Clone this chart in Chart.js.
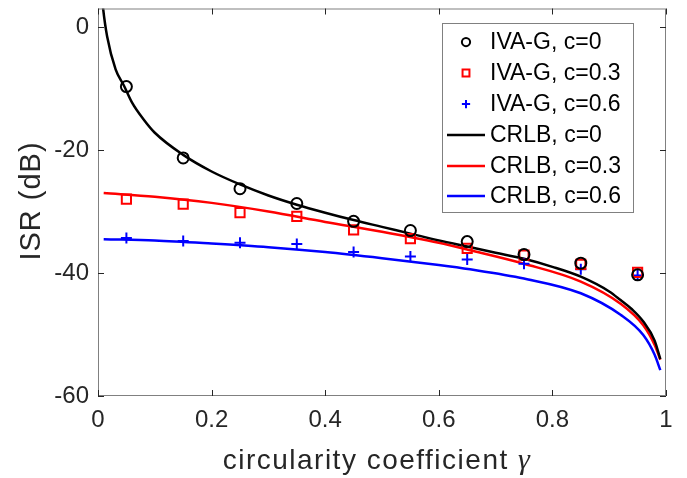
<!DOCTYPE html>
<html>
<head>
<meta charset="utf-8">
<script src="https://cdn.jsdelivr.net/npm/chart.js@4.4.1/dist/chart.umd.min.js"></script>
<style>
  body { margin: 0; background: #fff; }
  canvas { display: block; }
</style>
</head>
<body>
<canvas id="isrChart" width="687" height="478"></canvas>
<script>
// ISR vs circularity coefficient: IVA-G markers and CRLB curves

// marker positions (gamma) and IVA-G values
const gammaPts = [0.05, 0.15, 0.25, 0.35, 0.45, 0.55, 0.65, 0.75, 0.85, 0.95];
const ivaC0 = [-9.7, -21.3, -26.3, -28.7, -31.6, -33.1, -34.9, -37.0, -38.4, -40.3];
const ivaC3 = [-28.0, -28.8, -30.2, -30.8, -33.0, -34.4, -36.0, -37.1, -38.6, -39.9];
const ivaC6 = [-34.3, -34.8, -35.1, -35.3, -36.6, -37.3, -37.8, -38.5, -39.4, -40.4];

// CRLB curves
const crlbX0 = [0.007, 0.009, 0.016, 0.031, 0.046, 0.06, 0.08, 0.1, 0.15, 0.2, 0.25, 0.3, 0.35, 0.4, 0.45, 0.5, 0.55, 0.6, 0.65, 0.7, 0.75, 0.8, 0.85, 0.9, 0.92, 0.94, 0.96, 0.98, 0.99];
const crlbC0 = [5, 3, -1.5, -6.9, -9.6, -12.3, -15.0, -17.2, -20.8, -23.5, -25.6, -27.4, -28.9, -30.2, -31.4, -32.5, -33.6, -34.7, -35.7, -36.7, -37.7, -39.0, -40.6, -43.0, -44.4, -45.9, -47.9, -51.0, -54.0];
const crlbX = [0.01, 0.1, 0.2, 0.3, 0.4, 0.5, 0.6, 0.655, 0.75, 0.85, 0.92, 0.96, 0.98, 0.99];
const crlbC3 = [-27.0, -27.6, -28.6, -30.0, -31.7, -33.3, -35.1, -36.3, -38.5, -41.4, -45.0, -48.5, -51.7, -54.1];
const crlbC6 = [-34.5, -34.7, -35.2, -35.8, -36.6, -37.6, -38.7, -39.4, -40.9, -43.3, -46.8, -50.1, -53.3, -55.8];

// axis ticks
const xTicks = [0, 0.2, 0.4, 0.6, 0.8, 1];
const yTicks = [-60, -40, -20, 0];

const legendLabels = ['IVA-G, c=0', 'IVA-G, c=0.3', 'IVA-G, c=0.6', 'CRLB, c=0', 'CRLB, c=0.3', 'CRLB, c=0.6'];

const axisGray = '#262626';
const boxGray = '#808080';
const fontFam = '"Liberation Sans", Arial, Helvetica, sans-serif';

function pairs(xs, ys) {
    return xs.map((x, i) => ({ x: x, y: ys[i] }));
}

function markerSet(label, ys, color, style, radius) {
    return {
        label: label,
        data: pairs(gammaPts, ys),
        showLine: false,
        borderColor: color,
        backgroundColor: 'rgba(0,0,0,0)',
        pointStyle: style,
        pointRadius: radius,
        pointBorderWidth: 2,
        order: 1
    };
}

function curveSet(label, xs, ys, color) {
    return {
        label: label,
        data: pairs(xs, ys),
        showLine: true,
        borderColor: color,
        borderWidth: 2.5,
        pointRadius: 0,
        cubicInterpolationMode: 'monotone',
        fill: false,
        order: 2
    };
}

// box, inward ticks, titles and legend
const decoPlugin = {
    id: 'deco',
    afterDatasetsDraw(chart) {
        const ctx = chart.ctx;
        const a = chart.chartArea;
        const sx = chart.scales.x, sy = chart.scales.y;
        ctx.save();
        ctx.strokeStyle = boxGray;
        ctx.lineWidth = 1;
        ctx.strokeRect(a.left + 0.5, a.top + 0.5, a.right - a.left - 1, a.bottom - a.top - 1);
        ctx.strokeStyle = axisGray;
        ctx.beginPath();
        xTicks.forEach(v => {
            const px = Math.round(sx.getPixelForValue(v)) + 0.5;
            ctx.moveTo(px, a.bottom); ctx.lineTo(px, a.bottom - 6);
            ctx.moveTo(px, a.top); ctx.lineTo(px, a.top + 6);
        });
        yTicks.forEach(v => {
            const py = Math.round(sy.getPixelForValue(v)) + 0.5;
            ctx.moveTo(a.left, py); ctx.lineTo(a.left + 6, py);
            ctx.moveTo(a.right, py); ctx.lineTo(a.right - 6, py);
        });
        ctx.stroke();

        // axis titles
        ctx.fillStyle = axisGray;
        ctx.textBaseline = 'alphabetic';
        ctx.letterSpacing = '1.5px';
        const xt = 'circularity coefficient ';
        ctx.font = '28px ' + fontFam;
        const w1 = ctx.measureText(xt).width;
        ctx.font = 'italic 30px "Liberation Serif", "DejaVu Serif", serif';
        const w2 = ctx.measureText('γ').width;
        let x0 = 377 - (w1 + w2) / 2;
        ctx.font = '28px ' + fontFam;
        ctx.textAlign = 'left';
        ctx.fillText(xt, x0, 469);
        ctx.font = 'italic 30px "Liberation Serif", "DejaVu Serif", serif';
        ctx.fillText('γ', x0 + w1, 469);

        ctx.save();
        ctx.letterSpacing = '1px';
        ctx.translate(40, 201);
        ctx.rotate(-Math.PI / 2);
        ctx.font = '29px ' + fontFam;
        ctx.textAlign = 'center';
        ctx.fillText('ISR (dB)', 0, 0);
        ctx.restore();
        ctx.letterSpacing = '0px';

        // legend
        const lx = 442, ly = 23, lw = 191, lh = 189;
        ctx.fillStyle = '#fff';
        ctx.fillRect(lx, ly, lw, lh);
        ctx.strokeStyle = boxGray;
        ctx.strokeRect(lx + 0.5, ly + 0.5, lw, lh);
        const rows = [42, 73, 104, 135, 166, 196];
        ctx.font = '23px ' + fontFam;
        ctx.textBaseline = 'middle';
        ctx.textAlign = 'left';
        chart.data.datasets.forEach((ds, i) => {
            const ry = rows[i];
            ctx.strokeStyle = ds.borderColor;
            if (ds.showLine) {
                ctx.lineWidth = 2.5;
                ctx.beginPath();
                ctx.moveTo(447, ry); ctx.lineTo(485, ry);
                ctx.stroke();
            } else {
                ctx.lineWidth = 2;
                ctx.fillStyle = 'rgba(0,0,0,0)';
                Chart.helpers.drawPoint(ctx, { pointStyle: ds.pointStyle, radius: ds.pointRadius * 0.75, rotation: 0, borderWidth: 2 }, 466, ry);
            }
            ctx.fillStyle = '#000';
            ctx.fillText(legendLabels[i], 490, ry + 1);
        });
        ctx.restore();
    }
};

const ctx = document.getElementById('isrChart').getContext('2d');
new Chart(ctx, {
    type: 'scatter',
    data: {
        datasets: [
            markerSet(legendLabels[0], ivaC0, '#000000', 'circle', 5.5),
            markerSet(legendLabels[1], ivaC3, '#ff0000', 'rect', 6.5),
            markerSet(legendLabels[2], ivaC6, '#0000ff', 'cross', 5.5),
            curveSet(legendLabels[3], crlbX0, crlbC0, '#000000'),
            curveSet(legendLabels[4], crlbX, crlbC3, '#ff0000'),
            curveSet(legendLabels[5], crlbX, crlbC6, '#0000ff')
        ]
    },
    options: {
        responsive: false,
        animation: false,
        events: [],
        layout: { padding: { top: 6, right: 21, left: 0, bottom: 0 } },
        plugins: { legend: { display: false }, tooltip: { enabled: false } },
        scales: {
            x: {
                type: 'linear', min: 0, max: 1,
                afterBuildTicks: s => { s.ticks = xTicks.map(v => ({ value: v })); },
                afterFit: s => { s.height = 82; s.paddingLeft = 0; s.paddingRight = 0; },
                ticks: { color: axisGray, font: { family: fontFam, size: 24 }, padding: 10, maxRotation: 0, callback: v => String(v) },
                grid: { display: false, drawTicks: false },
                border: { display: false }
            },
            y: {
                type: 'linear', min: -60, max: 3,
                afterBuildTicks: s => { s.ticks = yTicks.map(v => ({ value: v })); },
                afterFit: s => { s.width = 98; s.paddingTop = 0; s.paddingBottom = 0; },
                ticks: { color: axisGray, font: { family: fontFam, size: 24 }, padding: 9, callback: v => String(v) },
                grid: { display: false, drawTicks: false },
                border: { display: false }
            }
        }
    },
    plugins: [decoPlugin]
});
</script>
</body>
</html>
